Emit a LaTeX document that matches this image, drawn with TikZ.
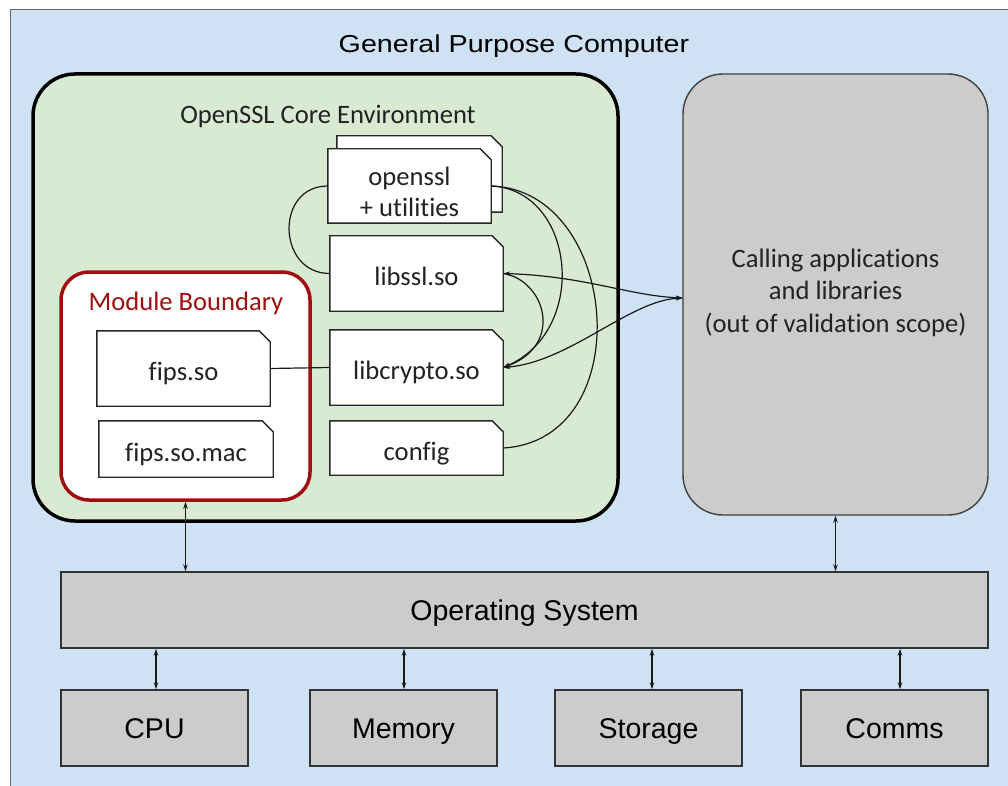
\documentclass[tikz,border=0pt]{standalone}
\usepackage{fontspec}
\setmainfont{Carlito}[Ligatures=NoCommon]
\newfontfamily\arialf{Liberation Sans}
\newfontfamily\arialwide[FakeStretch=1.17]{Liberation Sans}
\usetikzlibrary{arrows.meta}
\definecolor{bgblue}{HTML}{CFE2F3}
\definecolor{envgreen}{HTML}{D9EAD3}
\definecolor{boxgray}{HTML}{CCCCCC}
\definecolor{modred}{HTML}{A00F0F}
\definecolor{txt}{HTML}{222222}
\pgfdeclarelayer{bglayer}
\pgfdeclarelayer{doclayer}
\pgfsetlayers{bglayer,doclayer,main}
\begin{document}
\begin{tikzpicture}[x=1pt,y=-1pt,
  cal/.style={font=\fontsize{26.6}{32.5}\selectfont, text=txt},
  calline/.style={cal, text height=26.6pt, text depth=2.1pt},
  ari/.style={font=\arialf\fontsize{28.5}{34}\selectfont, text=black, text height=22.8pt, text depth=2.4pt},
  docbox/.style={rectangle, inner sep=0pt, calline},
  docline/.style={draw=black!85, line width=1.4pt, fill=white},
  graybox/.style={rectangle, draw=black!80, line width=1.4pt, fill=boxgray, inner sep=0pt, ari},
  conn/.style={line width=1.2pt, black!90},
  tip/.style={-{Stealth[length=7pt,width=4.5pt]}},
  dtip/.style={{Stealth[length=7pt,width=4.5pt]}-{Stealth[length=7pt,width=4.5pt]}}
]
\useasboundingbox (0,0) rectangle (1008,786);
\begin{pgfonlayer}{bglayer}
% outer computer
\node[draw=black!60, line width=1.2pt, fill=bgblue, minimum width=1010pt, minimum height=790pt, anchor=north west, inner sep=0pt] (gpc) at (10,9) {};
% core environment
\node[draw=black, line width=3.5pt, fill=envgreen, rounded corners=42pt, minimum width=585pt, minimum height=447pt, inner sep=0pt] (env) at (325.5,297.5) {};
% calling apps
\node[draw=black!75, line width=1.4pt, fill=boxgray, rounded corners=40pt, minimum width=305pt, minimum height=441pt, inner sep=0pt] (apps) at (835.5,294.5) {};
% module boundary
\node[draw=modred, line width=3.5pt, fill=white, rounded corners=28pt, minimum width=249pt, minimum height=228pt, inner sep=0pt] (module) at (185.5,386) {};
\end{pgfonlayer}
% titles
\node[font=\arialwide\fontsize{24.5}{30}\selectfont, text height=19.6pt, text depth=2.06pt] (gpctitle) at (514,43.3) {General Purpose Computer};
\node[calline] (envtitle) at (328,110.8) {OpenSSL Core Environment};
\node[cal, align=center] (appstext) at (835.5,292.5) {Calling applications\\and libraries\\(out of validation scope)};
\node[calline, text=modred] (modtitle) at (186,297.8) {Module Boundary};
% document nodes
\node[docbox, minimum width=173pt, minimum height=75pt] (fips) at (183.5,368.5) {fips.so};
\node[docbox, minimum width=174pt, minimum height=56pt] (fipsmac) at (186,449) {fips.so.mac};
\node[docbox, minimum width=165pt, minimum height=76pt] (osslb) at (419.5,174) {};
\node[rectangle, inner sep=0pt, text=txt, minimum width=163pt, minimum height=74pt, font=\fontsize{26.6}{31}\selectfont] (osslf) at (409.5,186)
  {\raisebox{-9.3pt}[\height][\depth]{\begin{tabular}{@{}c@{}}openssl\\+ utilities\end{tabular}}};
\node[docbox, minimum width=173pt, minimum height=75pt] (libssl) at (416.5,273.5) {libssl.so};
\node[docbox, minimum width=173pt, minimum height=75pt] (libcrypto) at (416.5,367.5) {libcrypto.so};
\node[docbox, minimum width=173pt, minimum height=54pt] (config) at (416.5,448) {config};
\begin{pgfonlayer}{doclayer}
\foreach \n in {fips,fipsmac,osslb,osslf,libssl,libcrypto,config}{
  \path[docline] (\n.south west) -- (\n.north west) -- ([xshift=-11pt]\n.north east)
    -- ([yshift=-11pt]\n.north east) -- (\n.south east) -- cycle;
}
\end{pgfonlayer}
% OS and hardware
\node[graybox, minimum width=927pt, minimum height=76pt] (os) at (524.5,610) {Operating System};
\node[graybox, minimum width=187pt, minimum height=76pt] (cpu) at (154.5,728) {CPU};
\node[graybox, minimum width=187pt, minimum height=76pt] (mem) at (403.5,728) {Memory};
\node[graybox, minimum width=187pt, minimum height=76pt] (stor) at (648.5,728) {Storage};
\node[graybox, minimum width=187pt, minimum height=76pt] (comms) at (894.5,728) {Comms};
% connectors
\draw[conn] (fips.east) -- (libcrypto.west);
\draw[conn] (osslf.west) .. controls +(-53,0) and +(-53,0) .. (libssl.west);
\draw[conn, tip] (osslf.east) .. controls (575,190) and (590,330) .. (libcrypto.east);
\draw[conn] (osslf.east) .. controls (620,190) and (640,440) .. (config.east);
\draw[conn, tip] (libssl.east) .. controls (545,280) and (565,345) .. (libcrypto.east);
\coordinate (appsin) at (683,298);
\draw[conn, dtip] (appsin) .. controls (630,296) and (585,276) .. (libssl.east);
\draw[conn, dtip] (appsin) .. controls (630,300) and (570,362) .. (libcrypto.east);
\draw[conn, dtip] (module.south) -- (module.south |- os.north);
\draw[conn, dtip] (apps.south) -- (apps.south |- os.north);
\draw[conn, dtip] ([xshift=1.5pt]cpu.north) -- ([xshift=1.5pt]cpu.north |- os.south);
\draw[conn, dtip] ([xshift=0.5pt]mem.north) -- ([xshift=0.5pt]mem.north |- os.south);
\draw[conn, dtip] ([xshift=3.5pt]stor.north) -- ([xshift=3.5pt]stor.north |- os.south);
\draw[conn, dtip] ([xshift=5.5pt]comms.north) -- ([xshift=5.5pt]comms.north |- os.south);
\end{tikzpicture}
\end{document}
